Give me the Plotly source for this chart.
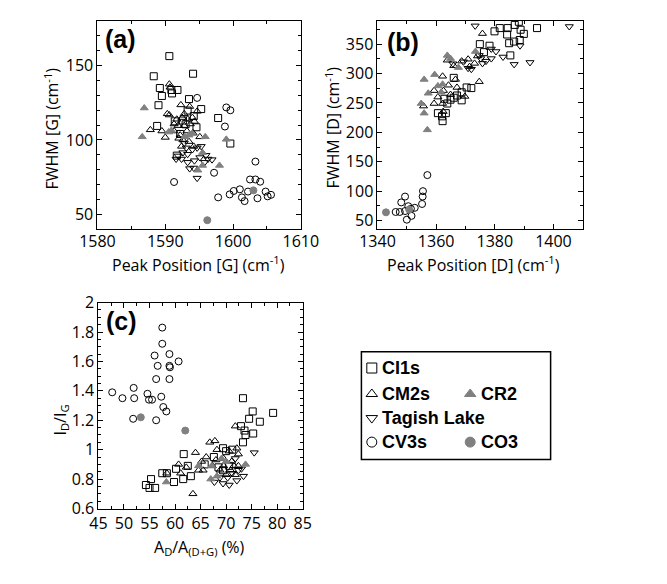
import plotly.graph_objects as go

W, H = 667, 584

# ---------------- Panel (a): Peak Position [G] vs FWHM [G] ----------------
a_ci1s_x = [1590.6, 1594.1, 1588.3, 1589.2, 1590.9, 1591.8, 1589.5, 1591.0, 1593.5, 1589.0, 1595.3,
            1593.3, 1597.8, 1588.8, 1599.6, 1591.7, 1592.6, 1594.2, 1593.0, 1591.4, 1594.6, 1592.2]
a_ci1s_y = [156.2, 144.4, 142.7, 134.8, 133.5, 133.5, 129.5, 131.2, 127.4, 123.3, 120.7,
            119.7, 114.7, 109.4, 97.6, 89.5, 113.0, 116.0, 110.5, 112.5, 108.5, 104.0]

a_cm2_x = [1590.6, 1590.7, 1592.3, 1590.3, 1590.6, 1587.8, 1589.5, 1590.0, 1594.7, 1592.8, 1591.7,
           1592.5, 1593.3, 1594.0, 1594.3, 1591.9, 1592.8, 1593.7, 1591.3, 1592.2, 1593.2, 1594.1,
           1595.1, 1592.6, 1593.5, 1594.2, 1592.4, 1592.0, 1591.3, 1593.6]
a_cm2_y = [137.4, 135.3, 123.5, 117.5, 116.7, 106.8, 106.0, 101.7, 119.2, 117.5, 113.9,
           115.0, 113.9, 115.0, 112.4, 109.6, 109.6, 110.7, 106.0, 103.2, 106.0, 104.7,
           102.1, 100.0, 98.9, 95.7, 95.7, 101.1, 110.7, 122.4]

a_tag_x = [1591.6, 1591.9, 1592.6, 1593.3, 1594.0, 1594.7, 1595.3, 1593.1, 1592.4, 1593.3,
           1594.3, 1595.1, 1596.0, 1596.9, 1595.8, 1593.6, 1594.2, 1594.7, 1596.3, 1592.8]
a_tag_y = [87.2, 89.3, 91.5, 90.4, 93.6, 94.7, 95.7, 94.7, 87.2, 85.0,
           86.1, 88.2, 89.7, 86.8, 85.0, 80.8, 81.2, 74.4, 87.2, 97.9]

a_cv3_x = [1594.7, 1599.0, 1599.6, 1598.8, 1597.2, 1591.3, 1603.3, 1602.5, 1603.3, 1604.0, 1597.8,
           1599.5, 1600.1, 1601.0, 1601.3, 1601.7, 1602.2, 1603.6, 1604.8, 1605.1, 1605.6]
a_cv3_y = [128.2, 121.8, 119.9, 109.0, 78.0, 71.8, 85.5, 73.5, 73.5, 72.0, 61.5,
           63.5, 65.8, 66.9, 61.5, 59.0, 65.4, 60.9, 65.4, 62.2, 63.2]

a_cr2_x = [1586.9, 1586.6, 1590.5, 1590.9, 1592.9, 1593.5, 1594.0, 1595.9, 1599.0, 1598.0,
           1595.5, 1594.8, 1595.5]
a_cr2_y = [121.4, 102.1, 105.3, 106.4, 102.1, 103.2, 104.3, 102.1, 100.4, 82.9,
           82.9, 79.7, 91.5]

a_co3_x = [1596.2, 1603.0]
a_co3_y = [46.2, 66.2]

# ---------------- Panel (b): Peak Position [D] vs FWHM [D] ----------------
b_ci1s_x = [1388.2, 1381.7, 1384.4, 1386.8, 1379.9, 1384.2, 1388.8, 1389.9, 1394.4, 1384.9,
            1386.6, 1388.5, 1374.9, 1378.2, 1385.3, 1376.3, 1366.0, 1370.4, 1372.0, 1368.7,
            1367.1, 1366.0, 1364.9, 1363.8, 1362.0, 1362.2, 1360.6, 1363.3, 1368.7, 1362.8]
b_ci1s_y = [388.0, 377.3, 377.3, 382.7, 371.8, 366.4, 374.5, 367.5, 377.3, 351.6,
            354.4, 357.1, 350.0, 347.3, 330.9, 336.4, 292.7, 276.4, 275.3, 268.2,
            262.7, 258.9, 255.6, 249.1, 227.3, 219.1, 232.7, 232.7, 254.5, 257.2]

b_cm2_x = [1375.8, 1374.7, 1355.7, 1359.3, 1359.3, 1362.2, 1363.8, 1366.0, 1368.7, 1370.9, 1371.4,
           1362.5, 1364.9, 1367.1, 1362.2, 1362.4, 1364.2, 1366.6, 1360.6, 1369.8, 1374.1, 1373.1]
b_cm2_y = [368.0, 286.2, 244.7, 249.1, 271.0, 295.4, 322.7, 313.4, 321.1, 324.4, 311.8,
           271.0, 264.4, 276.4, 249.1, 235.4, 280.2, 290.0, 260.0, 261.1, 329.8, 317.3]

b_tag_x = [1373.3, 1378.8, 1380.4, 1382.8, 1386.6, 1392.0, 1388.6, 1405.4, 1378.8, 1377.0,
           1374.7, 1375.8, 1375.2, 1372.0, 1370.9, 1369.3, 1365.7]
b_tag_y = [381.1, 341.8, 337.5, 328.2, 315.6, 318.9, 347.3, 380.0, 325.5, 321.1,
           330.9, 317.3, 325.5, 307.4, 309.1, 320.0, 316.7]

b_cv3_x = [1357.0, 1355.5, 1355.4, 1355.2, 1349.4, 1348.1, 1346.2, 1347.6, 1349.4, 1350.5,
           1351.4, 1352.7, 1350.0, 1351.6]
b_cv3_y = [127.4, 100.1, 90.9, 78.3, 90.9, 81.0, 64.7, 64.7, 66.3, 74.5,
           70.1, 71.8, 51.6, 58.1]

b_cr2_x = [1357.0, 1355.9, 1354.9, 1355.9, 1357.3, 1359.5, 1360.6, 1362.2, 1363.8, 1364.9,
           1367.6, 1373.4, 1361.7]
b_cr2_y = [204.3, 232.7, 249.1, 290.0, 266.5, 298.2, 279.0, 281.8, 330.9, 325.5,
           310.2, 337.5, 268.2]

b_co3_x = [1342.9, 1350.8]
b_co3_y = [64.1, 69.0]

# ---------------- Panel (c): A_D/A_(D+G) vs I_D/I_G ----------------
c_ci1s_x = [73.3, 75.2, 74.5, 76.6, 79.2, 72.9, 73.6, 73.8, 75.3, 73.3, 61.7, 54.3, 55.3, 55.0,
            56.1, 57.5, 58.4, 59.8, 60.2, 61.6, 62.5, 63.1, 65.8, 67.6, 69.4, 70.0, 71.2,
            68.5, 69.4, 70.6]
c_ci1s_y = [1.35, 1.26, 1.21, 1.19, 1.25, 1.16, 1.13, 1.10, 1.11, 1.05, 0.97, 0.76, 0.80, 0.74,
            0.74, 0.84, 0.84, 0.78, 0.87, 0.80, 0.89, 0.82, 0.90, 0.95, 1.01, 0.99, 1.00,
            0.88, 0.86, 0.89]

c_cm2_x = [71.8, 67.8, 66.8, 64.0, 63.5, 58.4, 61.1, 62.2, 65.2, 66.1, 67.3, 68.2, 70.6, 72.1,
           72.4, 68.8, 71.5, 68.0, 65.5, 69.5, 70.9, 69.5, 70.0, 71.1, 60.7, 64.6, 71.8, 72.4]
c_cm2_y = [1.16, 1.06, 1.05, 0.98, 0.70, 0.84, 0.84, 0.88, 0.92, 0.95, 0.89, 1.00, 0.99, 1.01,
           0.97, 0.86, 0.89, 0.93, 0.86, 0.94, 0.86, 0.89, 0.83, 0.92, 0.90, 0.86, 0.83, 0.89]

c_tag_x = [75.5, 73.4, 67.7, 69.4, 70.6, 72.1, 71.8, 70.3, 71.2, 72.4, 68.8, 73.0]
c_tag_y = [0.98, 0.82, 0.78, 0.77, 0.76, 0.79, 0.94, 0.81, 0.84, 0.86, 0.81, 0.87]

c_cv3_x = [57.5, 57.5, 56.0, 58.9, 56.6, 58.9, 59.0, 60.7, 56.3, 58.9, 51.9, 47.7, 49.7, 52.0,
           54.6, 54.9, 55.5, 57.3, 57.7, 58.3, 51.8, 56.3]
c_cv3_y = [1.83, 1.72, 1.64, 1.65, 1.57, 1.57, 1.56, 1.60, 1.48, 1.48, 1.42, 1.39, 1.35, 1.35,
           1.38, 1.34, 1.34, 1.36, 1.29, 1.26, 1.21, 1.20]

c_cr2_x = [73.8, 64.6, 67.2, 67.0, 58.3, 69.1, 70.0, 68.2]
c_cr2_y = [0.90, 0.89, 0.89, 0.80, 0.78, 0.94, 0.92, 0.82]

c_co3_x = [53.3, 62.0]
c_co3_y = [1.22, 1.13]

# ---------------- Legend ----------------
legend_names = ["CI1s", "CM2s", "CR2", "Tagish Lake", "CV3s", "CO3"]

GRAY = "#808080"
STYLE = {
    "CI1s": dict(symbol="square-open", color="black"),
    "CM2s": dict(symbol="triangle-up-open", color="black"),
    "Tagish Lake": dict(symbol="triangle-down-open", color="black"),
    "CV3s": dict(symbol="circle-open", color="black"),
    "CR2": dict(symbol="triangle-up", color=GRAY),
    "CO3": dict(symbol="circle", color=GRAY),
}

fig = go.Figure()


def add(xs, ys, name, ax, size=7):
    st = STYLE[name]
    fig.add_trace(go.Scatter(
        x=xs, y=ys, mode="markers", name=name, showlegend=False,
        xaxis="x" + ax, yaxis="y" + ax,
        marker=dict(symbol=st["symbol"], color=st["color"], size=size,
                    line=dict(width=1, color=st["color"]))))


panels = {
    "": [(a_ci1s_x, a_ci1s_y, "CI1s"), (a_cm2_x, a_cm2_y, "CM2s"), (a_tag_x, a_tag_y, "Tagish Lake"),
         (a_cv3_x, a_cv3_y, "CV3s"), (a_cr2_x, a_cr2_y, "CR2"), (a_co3_x, a_co3_y, "CO3")],
    "2": [(b_ci1s_x, b_ci1s_y, "CI1s"), (b_cm2_x, b_cm2_y, "CM2s"), (b_tag_x, b_tag_y, "Tagish Lake"),
          (b_cv3_x, b_cv3_y, "CV3s"), (b_cr2_x, b_cr2_y, "CR2"), (b_co3_x, b_co3_y, "CO3")],
    "3": [(c_ci1s_x, c_ci1s_y, "CI1s"), (c_cm2_x, c_cm2_y, "CM2s"), (c_tag_x, c_tag_y, "Tagish Lake"),
          (c_cv3_x, c_cv3_y, "CV3s"), (c_cr2_x, c_cr2_y, "CR2"), (c_co3_x, c_co3_y, "CO3")],
}
for ax, series in panels.items():
    for xs, ys, nm in series:
        add(xs, ys, nm, ax)


def px(v):
    return v / W


def py(v):
    return 1 - v / H


FONT = "Open Sans"


def axis(domain, rng, dtick, minor, **kw):
    d = dict(domain=domain, range=rng, dtick=dtick, tick0=0, showline=True, linecolor="black",
             linewidth=1, mirror="allticks", ticks="inside", ticklen=5, tickcolor="black",
             tickwidth=1, showgrid=False, zeroline=False,
             tickfont=dict(family=FONT, size=16, color="black"),
             minor=dict(ticks="inside", ticklen=3, dtick=minor, tick0=0, tickcolor="black",
                        tickwidth=1, showgrid=False))
    d.update(kw)
    return d


layout = dict(
    width=W, height=H, margin=dict(l=0, r=0, t=0, b=0),
    paper_bgcolor="white", plot_bgcolor="white", showlegend=False,
    xaxis=axis([px(84), px(299)], [1580, 1610], 10, 5, anchor="y", ticklabelstandoff=-3),
    yaxis=axis([py(227), py(10)], [40, 180], 50, 10, anchor="x"),
    xaxis2=axis([px(380), px(597)], [1340, 1410], 20, 10, anchor="y2", ticklabelstandoff=-3),
    yaxis2=axis([py(227), py(10)], [35, 390], 50, 25, anchor="x2"),
    xaxis3=axis([px(85), px(301)], [45, 85], 5, 2.5, anchor="y3", ticklabelstandoff=0),
    yaxis3=axis([py(517), py(303)], [0.6, 2.0], 0.2, 0.05, anchor="x3"),
    xaxis4=dict(domain=[px(363), px(563)], range=[363, 563], visible=False, anchor="y4",
                fixedrange=True),
    yaxis4=dict(domain=[py(466), py(354)], range=[466, 354], visible=False, anchor="x4",
                fixedrange=True),
)
fig.update_layout(**layout)

annots = []
tfont = dict(family=FONT, size=16, color="black")
# axis titles
annots.append(dict(text="Peak Position [G] (cm<sup>-1</sup>)", x=px(191), y=py(263), xref="paper",
                   yref="paper", showarrow=False, font=tfont, xanchor="center", yanchor="middle"))
annots.append(dict(text="Peak Position [D] (cm<sup>-1</sup>)", x=px(482), y=py(263), xref="paper",
                   yref="paper", showarrow=False, font=tfont, xanchor="center", yanchor="middle"))
annots.append(dict(text="A<sub>D</sub>/A<sub>(D+G)</sub> (%)", x=px(192), y=py(558), xref="paper",
                   yref="paper", showarrow=False, font=tfont, xanchor="center", yanchor="middle"))
annots.append(dict(text="FWHM [G] (cm<sup>-1</sup>)", x=px(36), y=py(122), xref="paper",
                   yref="paper", showarrow=False, font=tfont, textangle=-90,
                   xanchor="center", yanchor="middle"))
annots.append(dict(text="FWHM [D] (cm<sup>-1</sup>)", x=px(333), y=py(121), xref="paper",
                   yref="paper", showarrow=False, font=tfont, textangle=-90,
                   xanchor="center", yanchor="middle"))
annots.append(dict(text="I<sub>D</sub>/I<sub>G</sub>", x=px(45), y=py(425), xref="paper",
                   yref="paper", showarrow=False, font=tfont, textangle=-90,
                   xanchor="center", yanchor="middle"))
# panel labels
pfont = dict(family="Liberation Sans", size=25, color="black")
for lab, xx, yy in [("(a)", 108, 29), ("(b)", 407, 32), ("(c)", 109, 322)]:
    annots.append(dict(text="<b>" + lab + "</b>", x=px(xx), y=py(yy), xref="paper", yref="paper",
                       showarrow=False, font=pfont, xanchor="center", yanchor="middle"))

# legend box and entries
fig.add_shape(type="rect", xref="paper", yref="paper", x0=px(363), x1=px(563), y0=py(466),
              y1=py(354), line=dict(color="black", width=1.5), fillcolor="rgba(0,0,0,0)")
lfont = dict(family="Liberation Sans", size=18, color="black")
leg_pos = {"CI1s": (374, 371), "CM2s": (374, 398), "CR2": (478, 398),
           "Tagish Lake": (374, 423), "CV3s": (374, 448), "CO3": (478, 448)}
for nm in legend_names:
    sx, sy = leg_pos[nm]
    st = STYLE[nm]
    fig.add_trace(go.Scatter(x=[sx], y=[sy], mode="markers", xaxis="x4", yaxis="y4",
                             showlegend=False, hoverinfo="skip",
                             marker=dict(symbol=st["symbol"], color=st["color"], size=10,
                                         line=dict(width=1, color=st["color"]))))
    annots.append(dict(text="<b>" + nm + "</b>", x=px(sx + 9), y=py(sy), xref="paper",
                       yref="paper", showarrow=False, font=lfont, xanchor="left",
                       yanchor="middle"))

fig.update_layout(annotations=annots)

fig.write_html("out.html", config={"displayModeBar": False},
               post_script="document.body.style.margin='0';document.body.style.overflow='hidden';")
